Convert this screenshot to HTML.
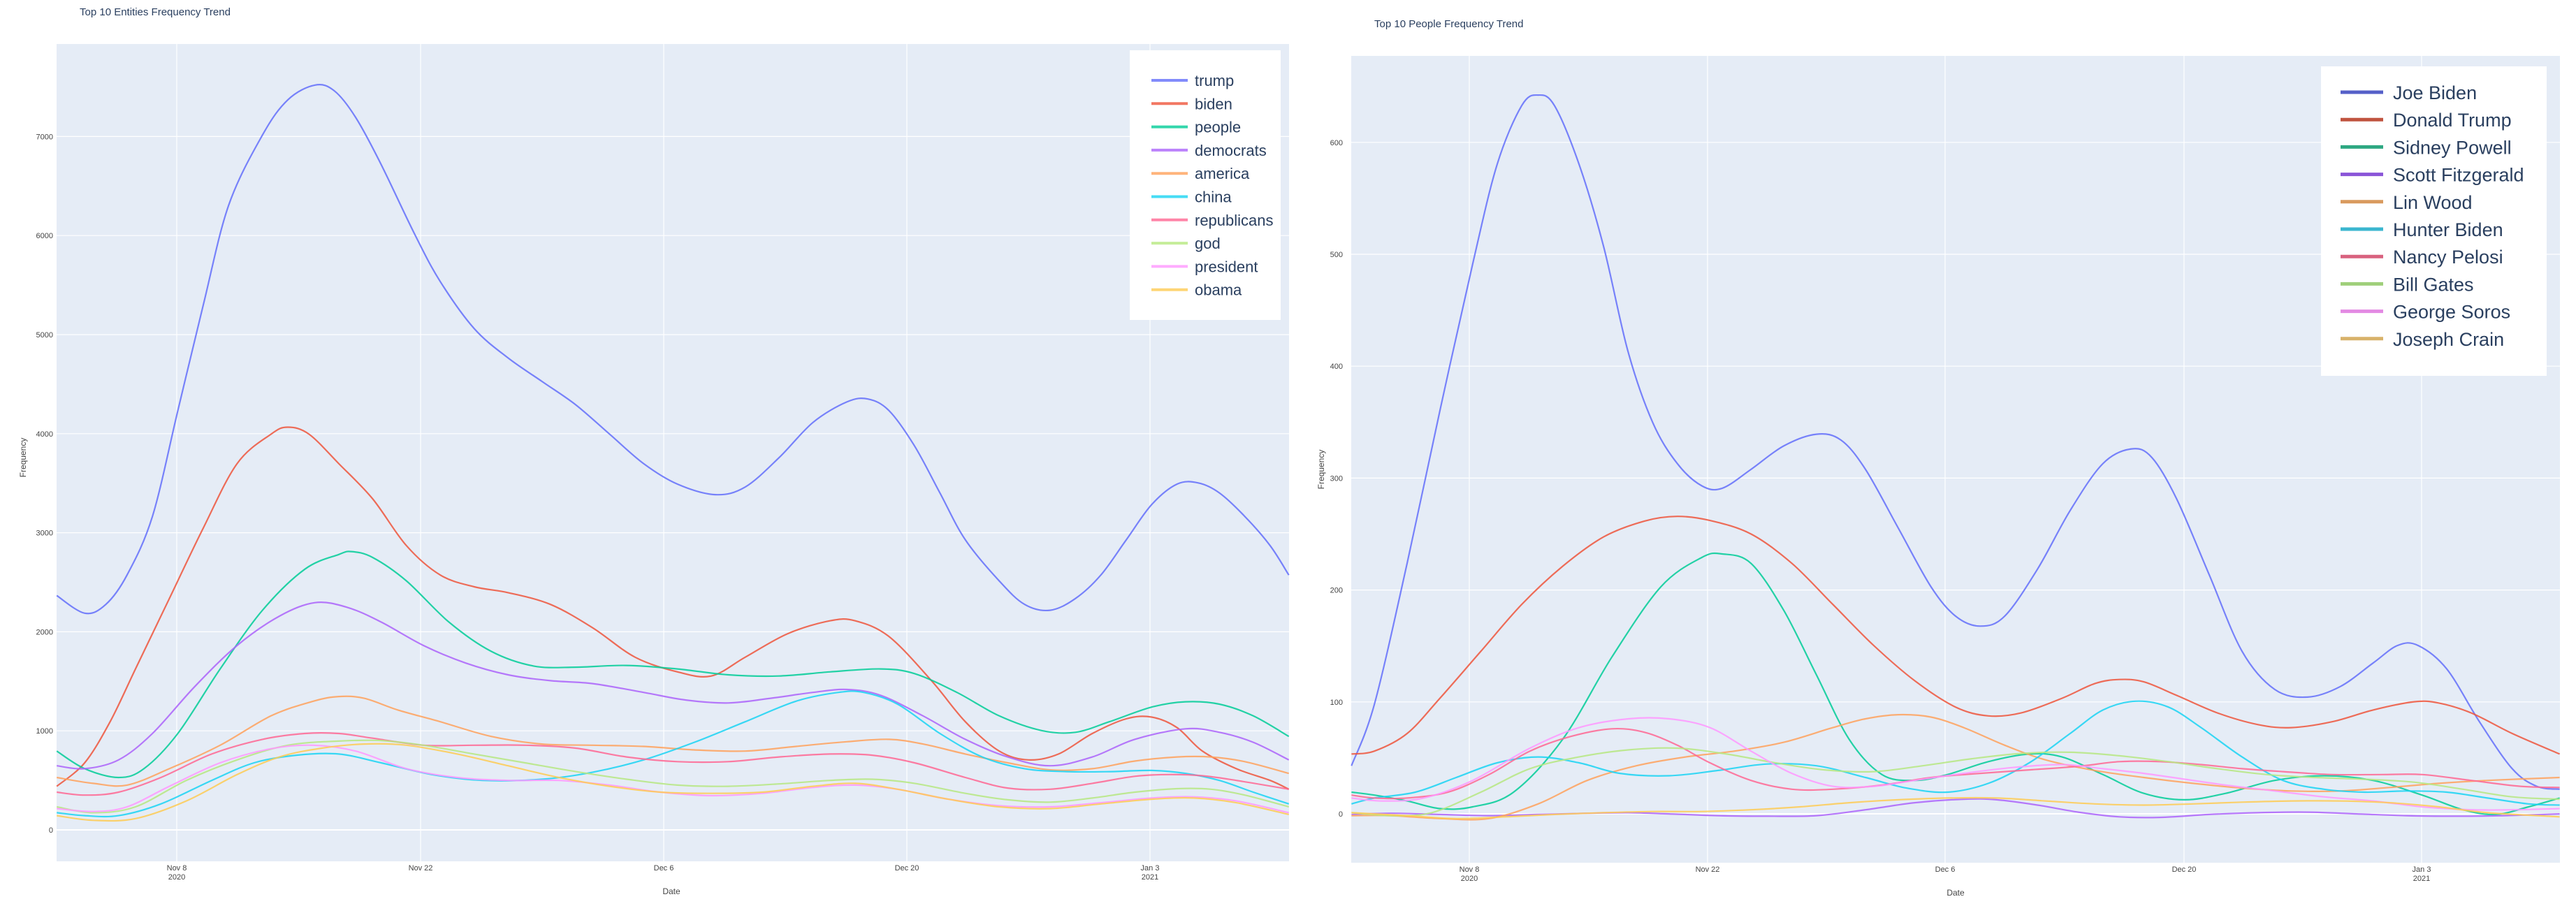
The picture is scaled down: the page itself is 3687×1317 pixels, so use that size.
<!DOCTYPE html>
<html><head><meta charset="utf-8">
<style>
html,body{margin:0;padding:0;background:#fff;}
svg{display:block;font-family:"Liberation Sans",Arial,sans-serif;}
</style></head>
<body>
<svg id="s" width="3687" height="1317" viewBox="0 0 3687 1317" xmlns="http://www.w3.org/2000/svg">
<rect width="3687" height="1317" fill="#fff"/>
<text x="114" y="22" font-size="15" fill="#2a3f5f">Top 10 Entities Frequency Trend</text>
<text x="1967" y="39" font-size="15" fill="#2a3f5f">Top 10 People Frequency Trend</text>
<rect x="81" y="63" width="1764" height="1170" fill="#E5ECF6"/>
<rect x="1934" y="80" width="1730" height="1155" fill="#E5ECF6"/>
<g id="grid"></g>
<g id="lines" fill="none" stroke-width="2.2" stroke-linejoin="round"></g>
<g id="txt" font-size="11" fill="#444"></g>
<text x="961" y="1280" font-size="12" fill="#444" text-anchor="middle">Date</text>
<text x="2799" y="1282" font-size="12" fill="#444" text-anchor="middle">Date</text>
<text transform="translate(37,655) rotate(-90)" font-size="12" fill="#444" text-anchor="middle">Frequency</text>
<text transform="translate(1895,672) rotate(-90)" font-size="12" fill="#444" text-anchor="middle">Frequency</text>
<rect x="1617" y="72" width="216" height="386" fill="#fff"/>
<rect x="3322" y="95" width="323" height="443" fill="#fff"/>
<g id="leg"></g>
</svg>
<script>
var NS="http://www.w3.org/2000/svg";
function el(p,t,a,tx){var e=document.createElementNS(NS,t);for(var k in a)e.setAttribute(k,a[k]);if(tx!==undefined)e.textContent=tx;document.getElementById(p).appendChild(e);return e;}
// grids
var L={x0:81,x1:1845,y0:63,y1:1233,zero:1188,step:141.8,n:7,ticksX:[253,602,950,1298,1646]};
var R={x0:1934,x1:3664,y0:80,y1:1235,zero:1165,step:160.2,n:6,ticksX:[2103,2444,2784,3126,3466]};
var labs=["Nov 8","Nov 22","Dec 6","Dec 20","Jan 3"];
[[L,1000,76],[R,100,1922]].forEach(function(c){
 var C=c[0];
 for(var i=0;i<=C.n;i++){var y=C.zero-i*C.step;
  el("grid","line",{x1:C.x0,x2:C.x1,y1:y,y2:y,stroke:"#fff","stroke-width":i==0?2:1.2});
  el("txt","text",{x:c[2],y:y+4,"text-anchor":"end"},String(i*c[1]));}
 C.ticksX.forEach(function(x,j){
  el("grid","line",{x1:x,x2:x,y1:C.y0,y2:C.y1,stroke:"#fff","stroke-width":1.2});
  el("txt","text",{x:x,y:C.y1+13,"text-anchor":"middle"},labs[j]);
  if(j==0||j==4)el("txt","text",{x:x,y:C.y1+26,"text-anchor":"middle"},j==0?"2020":"2021");
 });
});
function path(pts){var d="M"+pts[0][0]+","+pts[0][1];
 for(var i=0;i<pts.length-1;i++){var p0=pts[i-1]||pts[i],p1=pts[i],p2=pts[i+1],p3=pts[i+2]||p2;
  d+=" C"+(p1[0]+(p2[0]-p0[0])/6).toFixed(1)+","+(p1[1]+(p2[1]-p0[1])/6).toFixed(1)+" "+(p2[0]-(p3[0]-p1[0])/6).toFixed(1)+","+(p2[1]-(p3[1]-p1[1])/6).toFixed(1)+" "+p2[0].toFixed(1)+","+p2[1].toFixed(1);}
 return d;}
function draw(raw,fx,fy,col,op){var pts=[];for(var i=0;i<raw.length;i+=2)pts.push([fx(raw[i]),fy(raw[i+1])]);
 el("lines","path",{d:path(pts),stroke:col,"stroke-opacity":op});}
var lx=function(x){return x*1.212},ly=function(y){return y*0.84};
var rx=function(x){return 1850+x*1.1716};
var cols=["#636EFA","#EF553B","#00CC96","#AB63FA","#FFA15A","#19D3F3","#FF6692","#B6E880","#FF97FF","#FECB52"];
var left={
trump:[67,1015,100,1045,125,1030,150,980,180,880,210,700,240,520,270,350,310,230,340,170,372,145,395,155,420,200,450,280,490,400,520,480,560,560,600,610,640,650,680,690,720,740,760,790,800,825,845,843,880,830,920,780,960,720,1000,685,1025,680,1050,700,1080,760,1110,840,1140,920,1180,990,1210,1030,1240,1040,1270,1020,1300,980,1330,920,1360,860,1390,825,1415,823,1440,840,1470,880,1500,930,1522,980],
biden:[67,1340,100,1300,130,1230,160,1140,200,1020,240,900,280,790,320,740,340,728,365,740,400,790,440,850,480,930,520,980,560,1000,600,1010,650,1030,700,1070,750,1120,800,1145,840,1152,880,1120,930,1080,980,1058,1010,1058,1050,1085,1100,1160,1140,1230,1180,1280,1215,1295,1250,1285,1290,1250,1330,1225,1360,1222,1390,1240,1420,1280,1460,1310,1500,1330,1522,1345],
people:[67,1280,100,1310,140,1325,170,1310,210,1250,260,1140,310,1040,360,970,400,945,415,940,440,950,480,990,530,1060,580,1110,630,1135,680,1137,740,1134,800,1140,860,1150,920,1152,980,1145,1040,1140,1080,1148,1130,1180,1180,1220,1230,1245,1270,1248,1310,1230,1360,1205,1400,1196,1440,1200,1480,1220,1522,1255],
democrats:[67,1305,100,1310,140,1295,180,1250,230,1170,280,1100,330,1050,372,1027,410,1035,450,1060,500,1100,550,1130,600,1150,650,1160,700,1165,760,1180,810,1193,860,1198,910,1190,960,1180,1000,1175,1040,1185,1090,1220,1140,1260,1190,1290,1240,1305,1290,1290,1340,1260,1400,1242,1440,1248,1480,1265,1522,1295],
america:[67,1325,110,1335,150,1338,200,1310,260,1270,320,1220,370,1195,400,1187,430,1190,470,1210,520,1230,580,1255,640,1268,700,1270,760,1272,820,1278,880,1280,940,1272,1000,1264,1050,1260,1090,1268,1140,1285,1190,1300,1240,1312,1290,1310,1340,1297,1390,1290,1430,1290,1470,1298,1522,1318],
china:[67,1385,100,1390,140,1390,190,1370,250,1330,300,1300,350,1287,400,1285,450,1300,510,1320,570,1330,640,1328,700,1316,760,1295,820,1265,880,1230,940,1195,990,1180,1020,1180,1060,1200,1110,1250,1160,1290,1210,1310,1260,1315,1310,1315,1360,1313,1400,1318,1440,1330,1480,1350,1522,1370],
republicans:[67,1350,100,1355,140,1350,190,1325,250,1285,310,1260,360,1250,400,1250,440,1258,500,1270,560,1270,620,1270,680,1275,740,1290,800,1298,860,1298,920,1290,980,1285,1030,1287,1080,1300,1140,1325,1190,1343,1240,1345,1290,1335,1340,1323,1380,1320,1420,1322,1460,1330,1522,1345],
god:[67,1375,110,1385,160,1375,220,1330,280,1295,340,1270,400,1263,450,1262,500,1270,560,1285,620,1300,680,1315,740,1328,800,1338,860,1340,920,1336,980,1330,1030,1328,1080,1335,1140,1352,1190,1363,1240,1367,1290,1360,1340,1350,1390,1344,1430,1345,1470,1355,1522,1375],
president:[67,1378,110,1383,150,1375,200,1340,260,1300,320,1276,370,1270,420,1280,480,1310,540,1325,600,1330,660,1330,720,1338,780,1350,840,1356,900,1352,960,1342,1010,1338,1060,1345,1120,1362,1180,1373,1240,1375,1300,1368,1360,1360,1410,1358,1460,1365,1522,1385],
obama:[67,1390,110,1398,160,1395,220,1365,280,1320,330,1290,380,1275,430,1268,480,1270,540,1285,600,1305,660,1325,720,1340,780,1350,840,1352,900,1350,960,1340,1010,1335,1060,1345,1120,1362,1180,1375,1240,1378,1300,1370,1360,1362,1410,1360,1460,1368,1522,1388]};
var right={
"Joe Biden":[72,1305,100,1200,140,960,180,700,220,450,250,280,280,180,300,162,320,180,350,280,380,420,410,600,440,720,470,790,500,828,525,832,560,800,600,760,640,740,670,750,700,800,740,900,780,1000,810,1050,840,1067,870,1050,910,970,950,870,990,790,1025,765,1050,780,1080,850,1120,980,1160,1110,1200,1175,1240,1188,1280,1170,1320,1130,1350,1100,1375,1100,1410,1140,1450,1230,1490,1310,1520,1340,1548,1345],
"Donald Trump":[72,1285,100,1280,140,1250,180,1190,230,1110,280,1030,330,965,380,915,430,888,470,880,510,887,560,910,610,960,660,1030,710,1100,760,1160,810,1205,850,1220,890,1215,940,1190,980,1165,1010,1158,1040,1162,1080,1185,1130,1215,1180,1235,1220,1240,1270,1230,1320,1210,1370,1196,1400,1198,1440,1215,1490,1250,1548,1285],
"Sidney Powell":[72,1350,100,1355,140,1365,180,1378,220,1375,270,1350,330,1260,390,1120,450,1000,500,950,525,944,560,960,600,1040,640,1150,680,1260,720,1320,760,1330,800,1320,850,1298,900,1285,940,1290,990,1320,1040,1352,1090,1363,1140,1352,1200,1330,1260,1322,1320,1330,1380,1355,1430,1380,1470,1388,1510,1375,1548,1360],
"Scott Fitzgerald":[72,1388,120,1386,180,1388,240,1390,300,1388,360,1386,410,1385,460,1387,520,1390,580,1391,640,1390,700,1380,760,1368,820,1362,860,1363,910,1372,960,1384,1010,1392,1060,1393,1120,1388,1180,1385,1240,1384,1300,1387,1360,1390,1420,1391,1480,1390,1548,1387],
"Lin Wood":[72,1390,120,1390,180,1395,240,1395,300,1370,360,1330,420,1305,480,1290,540,1280,600,1265,660,1240,700,1225,740,1218,780,1222,820,1240,870,1270,920,1295,980,1313,1040,1325,1100,1335,1160,1343,1220,1348,1280,1348,1340,1342,1400,1335,1460,1330,1548,1325],
"Hunter Biden":[72,1370,100,1360,150,1350,200,1325,250,1300,300,1290,350,1300,400,1318,460,1322,520,1313,580,1302,640,1305,700,1325,750,1343,800,1350,850,1335,900,1300,950,1250,990,1210,1030,1195,1070,1205,1110,1240,1160,1290,1210,1330,1260,1345,1310,1350,1360,1348,1410,1350,1460,1360,1510,1370,1548,1372],
"Nancy Pelosi":[72,1355,100,1360,140,1360,190,1350,240,1320,290,1280,340,1255,390,1242,430,1248,470,1270,510,1300,560,1330,610,1345,660,1345,720,1338,780,1325,840,1318,900,1312,960,1306,1010,1298,1060,1298,1110,1303,1160,1310,1210,1315,1270,1320,1330,1320,1380,1320,1440,1330,1500,1340,1548,1342],
"Bill Gates":[72,1385,120,1390,170,1385,230,1350,290,1310,350,1290,410,1278,470,1275,530,1285,590,1300,650,1312,710,1315,770,1305,830,1293,890,1284,950,1282,1010,1288,1070,1298,1130,1310,1190,1320,1250,1325,1310,1328,1370,1333,1430,1345,1490,1358,1548,1362],
"George Soros":[72,1360,110,1365,160,1360,220,1330,290,1275,350,1240,410,1225,460,1225,510,1240,560,1280,610,1318,660,1340,710,1340,760,1330,820,1318,880,1308,940,1303,990,1310,1040,1318,1090,1328,1140,1338,1200,1348,1260,1358,1320,1365,1380,1375,1440,1380,1490,1380,1548,1378],
"Joseph Crain":[72,1385,140,1390,200,1395,260,1392,320,1388,380,1385,440,1383,500,1383,560,1380,620,1375,680,1368,740,1363,800,1360,860,1360,920,1365,980,1370,1040,1372,1100,1370,1160,1367,1220,1365,1280,1365,1340,1368,1400,1375,1460,1385,1548,1392]};
var i=0;for(var k in left){draw(left[k],lx,ly,cols[i],0.85);
 var y=115+i*33.3;el("leg","line",{x1:1648,x2:1700,y1:y,y2:y,stroke:cols[i],"stroke-width":4,"stroke-opacity":0.8});
 el("leg","text",{x:1710,y:y+8,"font-size":22,fill:"#2a3f5f"},k);i++;}
var rc=["#5560c8","#c0533f","#2ea882","#8a55d8","#d99a5e","#3bb6cf","#d8627f","#9fcf7a","#e38ae3","#d8b26a"];
i=0;for(var k in right){draw(right[k],rx,ly,cols[i],0.85);
 var y=132+i*39.2;el("leg","line",{x1:3350,x2:3411,y1:y,y2:y,stroke:rc[i],"stroke-width":5});
 el("leg","text",{x:3425,y:y+10,"font-size":27,fill:"#2a3f5f"},k);i++;}
</script>
</body></html>
